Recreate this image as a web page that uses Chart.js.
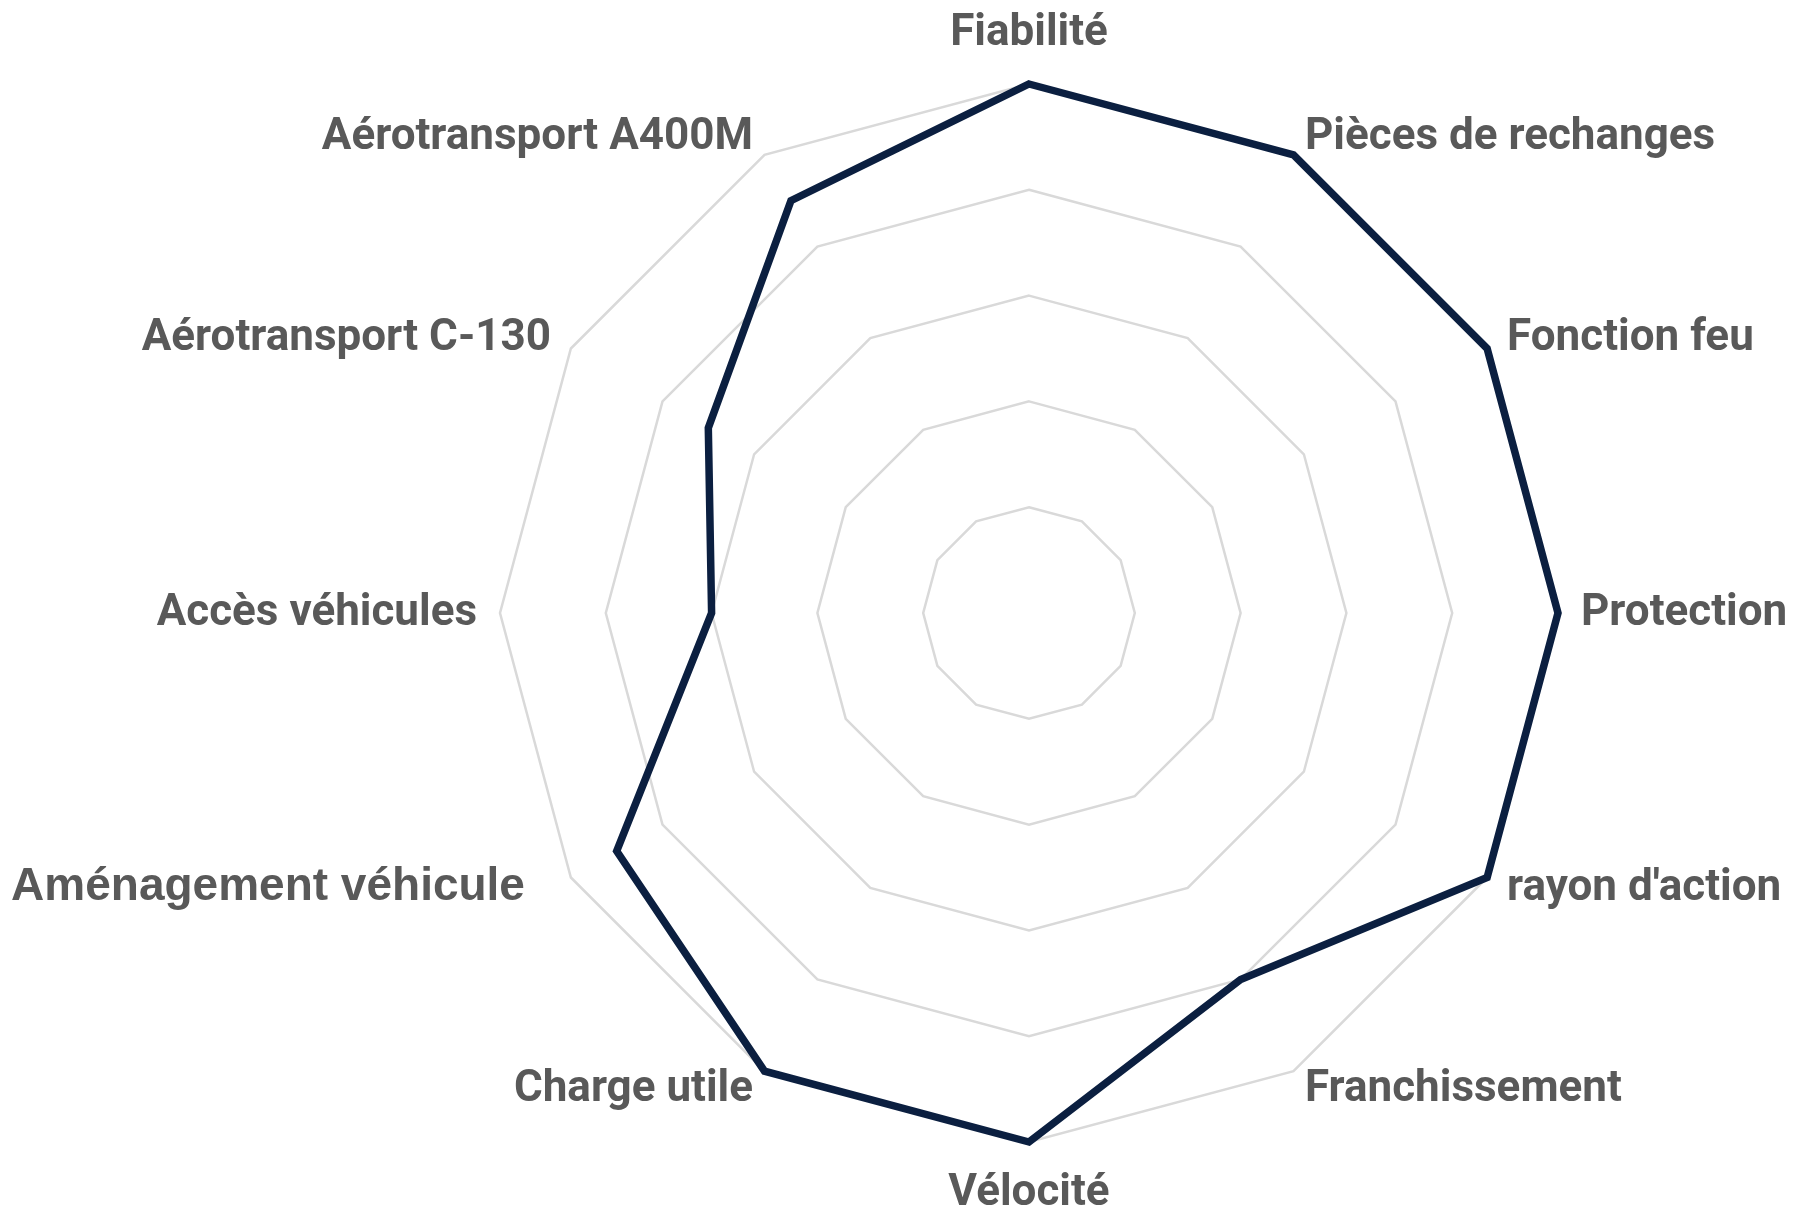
<!DOCTYPE html>
<html><head><meta charset="utf-8">
<script src="https://cdn.jsdelivr.net/npm/chart.js@4.4.1/dist/chart.umd.min.js"></script>
<style>html,body{margin:0;padding:0;background:#fff;} canvas{display:block;}</style>
</head><body>
<canvas id="c" width="1797" height="1211"></canvas>
<script>
const categories = ["Fiabilité","Pièces de rechanges","Fonction feu","Protection","rayon d'action","Franchissement","Vélocité","Charge utile","Aménagement véhicule","Accès véhicules","Aérotransport C-130","Aérotransport A400M"];
const scores = [5, 5, 5, 5, 5, 4, 5, 5, 4.5, 3, 3.5, 4.5];
const scaleMin = 0;
const scaleMax = 5;
const scaleStep = 1;

const labelStyle = {
  color: '#595959',
  font: 'bold 44px Roboto, "Liberation Sans", sans-serif',
  altFont: 'bold 46px "Liberation Sans", Arial, sans-serif',
  altIndex: 8,
  altExtraGap: 26
};

const outerLabels = {
  id: 'outerLabels',
  afterDraw(chart) {
    const scale = chart.scales.r;
    const ctx = chart.ctx;
    ctx.save();
    ctx.fillStyle = labelStyle.color;
    ctx.textBaseline = 'alphabetic';
    categories.forEach((text, i) => {
      const p = scale.getPointPosition(i, scale.drawingArea);
      const a = scale.getIndexAngle(i);
      const s = Math.sin(a), c = Math.cos(a);
      let x, y, align;
      if (Math.abs(s) < 1e-6) {
        align = 'center'; x = p.x; y = p.y + 12 - 51 * c;
      } else {
        align = s > 0 ? 'left' : 'right';
        x = p.x + 23 * s;
        y = p.y + 12 - 21 * c;
      }
      if (i === labelStyle.altIndex) {
        ctx.font = labelStyle.altFont;
        x -= labelStyle.altExtraGap;
      } else {
        ctx.font = labelStyle.font;
      }
      ctx.textAlign = align;
      ctx.fillText(text, x, y);
    });
    ctx.restore();
  }
};

new Chart(document.getElementById('c'), {
  type: 'radar',
  data: {
    labels: categories,
    datasets: [{
      data: scores,
      borderColor: '#0b1f40',
      borderWidth: 7.5,
      fill: false,
      pointRadius: 0,
      pointHoverRadius: 0,
      tension: 0,
      borderJoinStyle: 'miter'
    }]
  },
  options: {
    responsive: false,
    animation: false,
    devicePixelRatio: 1,
    layout: { padding: { left: 500, right: 239, top: 84, bottom: 69 } },
    plugins: { legend: { display: false }, tooltip: { enabled: false } },
    scales: {
      r: {
        min: scaleMin,
        max: scaleMax,
        ticks: { display: false, stepSize: scaleStep },
        grid: { color: '#d9d9d9', lineWidth: 2.5 },
        angleLines: { display: false },
        pointLabels: { display: false }
      }
    }
  },
  plugins: [outerLabels]
});
</script>
</body></html>
